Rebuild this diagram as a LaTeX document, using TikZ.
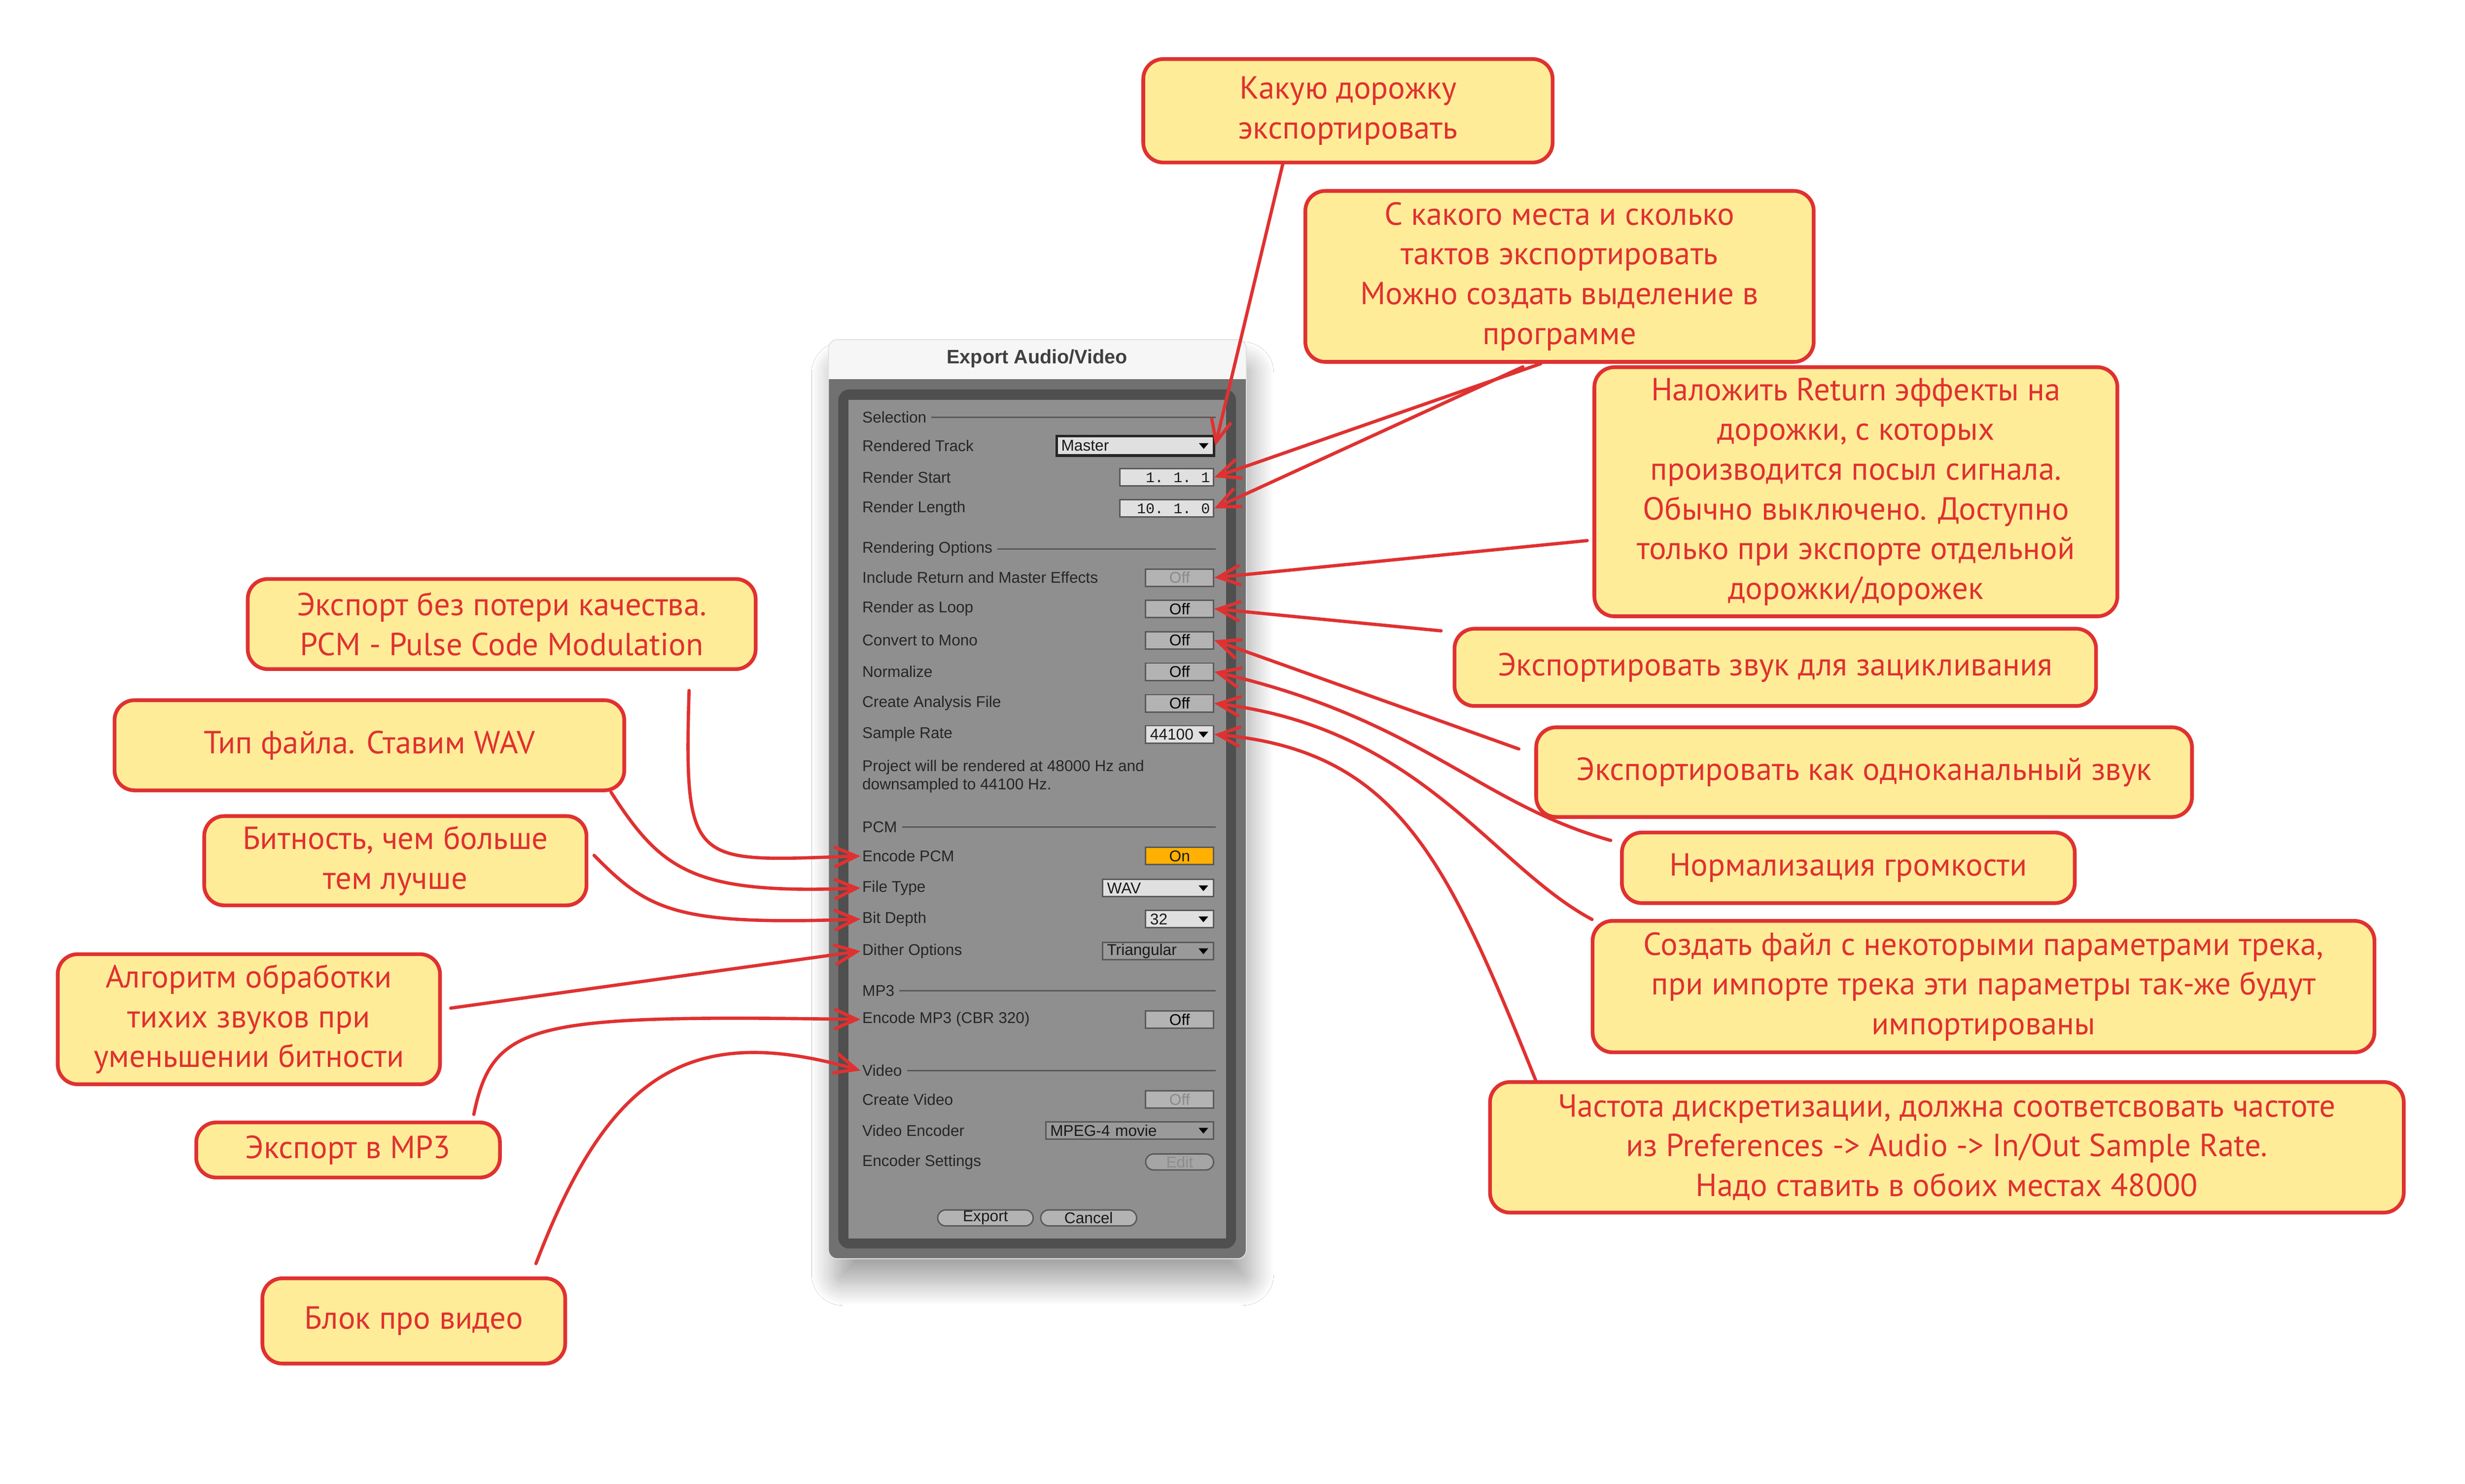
\documentclass[tikz,border=0pt]{standalone}
\usepackage{fontspec}
\setmainfont{Liberation Sans}
\setmonofont{Liberation Mono}
\newfontfamily\handfont{PT Sans}
\usetikzlibrary{positioning,calc,arrows.meta,shadows.blur}

\definecolor{callred}{HTML}{E03131}
\definecolor{callfill}{HTML}{FFEC99}
\definecolor{winband}{HTML}{717171}
\definecolor{winframe}{HTML}{4F4F4F}
\definecolor{winpanel}{HTML}{8F8F8F}
\definecolor{wintitle}{HTML}{F6F6F6}
\definecolor{rulegray}{HTML}{595959}
\definecolor{fieldgray}{HTML}{E0E0E0}
\definecolor{btngray}{HTML}{B3B3B3}
\definecolor{dimgray}{HTML}{8A8A8A}
\definecolor{pcmorange}{HTML}{FFB000}

\tikzset{
  callout/.style={draw=callred, fill=callfill, line width=2.4pt, rounded corners=0.45cm,
    text=callred, align=center, inner sep=0pt, font=\handfont\fontsize{20.5}{25.5}\selectfont},
  callarrow/.style={draw=callred, line width=2.1pt, line cap=round, line join=round,
    -{Straight Barb[length=0.5cm,width=0.45cm]}},
  lbl/.style={anchor=west, inner sep=1pt, text=black!85, font=\fontsize{10}{11.5}\selectfont},
  ctl/.style={anchor=east, draw=rulegray, line width=0.9pt, minimum height=0.39cm,
    inner sep=0pt, text=black!90, font=\fontsize{10}{12}\selectfont},
  offbtn/.style={ctl, fill=btngray, minimum width=1.53cm},
  ddbox/.style={ctl, fill=fieldgray, inner xsep=0.1cm, align=left,
    path picture={\fill[black] ($(path picture bounding box.east)+(-0.34,0.06)$)
      -- ++(0.22,0) -- ++(-0.11,-0.13) -- cycle;}},
  numbox/.style={ctl, fill=fieldgray, inner xsep=0.08cm, align=right,
    font=\ttfamily\fontsize{9.5}{11}\selectfont},
  pushbtn/.style={draw=rulegray, fill=btngray, line width=0.9pt, rounded corners=0.18cm,
    minimum height=0.36cm, inner sep=0pt, text=black!90, font=\fontsize{10}{12}\selectfont}
}

\begin{document}
\begin{tikzpicture}
  \useasboundingbox (0,0) rectangle (55.52,-33.42);
  \fill[white] (0,0) rectangle (55.52,-33.42);

  % dialog window
  \fill[wintitle, rounded corners=0.2cm, blur shadow={shadow xshift=0.12cm, shadow yshift=-0.55cm,
    shadow blur radius=0.5cm, shadow blur steps=20, shadow opacity=35}] (18.66,-7.65) rectangle (28.07,-28.35);
  \begin{scope}
    \clip (18,-8.54) rectangle (29,-29);
    \fill[winband, rounded corners=0.2cm] (18.66,-7.65) rectangle (28.07,-28.35);
  \end{scope}
  \draw[black!12, line width=0.6pt, rounded corners=0.2cm] (18.66,-7.65) rectangle (28.07,-28.35);
  \node[font=\bfseries\fontsize{12.5}{14}\selectfont, text=black!75] (title) at (23.36,-8.08) {Export Audio/Video};
  \fill[winframe, rounded corners=0.25cm] (18.88,-8.77) rectangle (27.84,-28.12);
  \fill[winpanel] (19.11,-9.00) rectangle (27.62,-27.89);
  \coordinate (rr) at (27.38,0);

  % section headings
  \foreach \nm/\y/\txt in {sel/9.40/Selection, ropt/12.36/Rendering Options, pcm/18.63/PCM,
      mp3/22.31/MP3, video/24.11/Video} {
    \node[lbl] (h\nm) at (19.38,-\y) {\txt};
    \draw[rulegray, line width=0.9pt] ([xshift=2pt]h\nm.east) -- (h\nm.east -| rr);
  }

  % row labels
  \foreach \nm/\y/\txt in {trk/10.04/Rendered Track, rst/10.75/Render Start, rlen/11.45/Render Length,
      incl/13.01/Include Return and Master Effects, loop/13.71/Render as Loop,
      mono/14.42/Convert to Mono, norm/15.13/Normalize, anal/15.84/Create Analysis File,
      rate/16.54/Sample Rate, enc/19.28/Encode PCM, ftype/20.00/File Type, bits/20.70/Bit Depth,
      dith/21.42/Dither Options, emp3/22.96/Encode MP3 (CBR 320), cvid/24.76/Create Video,
      venc/25.46/Video Encoder, eset/26.17/Encoder Settings}
    \node[lbl] (l\nm) at (19.38,-\y) {\txt};
  \node[lbl, anchor=north west, align=left] (note) at (19.38,-17.08)
    {Project will be rendered at 48000 Hz and\\downsampled to 44100 Hz.};

  % controls
  \node[ddbox, draw=black!85, line width=1.6pt, minimum height=0.44cm, text width=3.34cm] (master) at (27.37,-10.04) {Master};
  \node[numbox, text width=1.95cm] (rstart) at (27.35,-10.75) {1.~~1.~~1};
  \node[numbox, text width=1.95cm] (rlen) at (27.35,-11.45) {10.~~1.~~0};
  \foreach \nm/\y/\tc in {incl/13.01/dimgray, loop/13.71/black, mono/14.42/black, norm/15.13/black,
      anal/15.84/black, emp3/22.96/black, cvid/24.76/dimgray}
    \node[offbtn, text=\tc] (o\nm) at (27.35,-\y) {Off};
  \node[ddbox, text width=1.33cm] (srate) at (27.35,-16.54) {44100};
  \node[offbtn, fill=pcmorange] (onpcm) at (27.35,-19.28) {On};
  \node[ddbox, text width=2.30cm] (wav) at (27.35,-20.00) {WAV};
  \node[ddbox, text width=1.33cm] (depth) at (27.35,-20.70) {32};
  \node[ddbox, fill=winpanel!90!white, text width=2.30cm] (dither) at (27.35,-21.42) {Triangular};
  \node[ddbox, fill=winpanel!90!white, text width=3.58cm] (mpeg) at (27.35,-25.46) {MPEG-4 movie};
  \node[pushbtn, anchor=east, minimum width=1.53cm, text=black!45, fill=winpanel!80!white] (edit) at (27.35,-26.17) {Edit};
  \node[pushbtn, minimum width=2.15cm] (exportbtn) at (22.195,-27.43) {Export};
  \node[pushbtn, minimum width=2.16cm] (cancelbtn) at (24.52,-27.43) {Cancel};

  % callouts, right side
  \node[callout, minimum width=9.22cm, minimum height=2.33cm] (track) at (30.36,-2.495)
    {Какую дорожку\\экспортировать};
  \node[callout, minimum width=11.45cm, minimum height=3.85cm] (range) at (35.125,-6.225)
    {С какого места и сколько\\тактов экспортировать\\Можно создать выделение в\\программе};
  \node[callout, minimum width=11.78cm, minimum height=5.61cm] (ret) at (41.80,-11.075)
    {Наложить Return эффекты на\\дорожки, с которых\\производится посыл сигнала.\\Обычно выключено. Доступно\\только при экспорте отдельной\\дорожки/дорожек};
  \node[callout, minimum width=14.45cm, minimum height=1.74cm] (loop) at (39.985,-15.03)
    {Экспортировать звук для зацикливания};
  \node[callout, minimum width=14.77cm, minimum height=2.02cm] (mono) at (41.985,-17.39)
    {Экспортировать как одноканальный звук};
  \node[callout, minimum width=10.2cm, minimum height=1.59cm] (norm) at (41.63,-19.545)
    {Нормализация громкости};
  \node[callout, minimum width=17.61cm, minimum height=2.96cm] (anal) at (44.675,-22.22)
    {Создать файл с некоторыми параметрами трека,\\при импорте трека эти параметры так-же будут\\импортированы};
  \node[callout, minimum width=20.58cm, minimum height=2.94cm] (rate) at (43.85,-25.84)
    {Частота дискретизации, должна соответсвовать частоте\\из Preferences -> Audio -> In/Out Sample Rate.\\Надо ставить в обоих местах 48000};

  % callouts, left side
  \node[callout, minimum width=11.44cm, minimum height=2.03cm] (pcm) at (11.30,-14.055)
    {Экспорт без потери качества.\\PCM - Pulse Code Modulation};
  \node[callout, minimum width=11.48cm, minimum height=2.03cm] (type) at (8.32,-16.785)
    {Тип файла. Ставим WAV};
  \node[callout, minimum width=8.61cm, minimum height=2.01cm] (bits) at (8.905,-19.385)
    {Битность, чем больше\\тем лучше};
  \node[callout, minimum width=8.61cm, minimum height=2.93cm] (dith) at (5.605,-22.955)
    {Алгоритм обработки\\тихих звуков при\\уменьшении битности};
  \node[callout, minimum width=6.84cm, minimum height=1.24cm] (mp3) at (7.84,-25.90)
    {Экспорт в MP3};
  \node[callout, minimum width=6.82cm, minimum height=1.92cm] (vid) at (9.32,-29.75)
    {Блок про видео};

  % arrows, right side
  \draw[callarrow] ([xshift=-1.47cm]track.south) -- (master.east);
  \draw[callarrow] ([xshift=-0.425cm]range.south) -- (rstart.east);
  \draw[callarrow] ([xshift=-0.825cm,yshift=-0.07cm]range.south) -- (rlen.east);
  \draw[callarrow] ([xshift=-0.12cm,yshift=-1.1cm]ret.west) -- (oincl.east);
  \draw[callarrow] ([xshift=-0.26cm,yshift=-0.09cm]loop.north west) -- (oloop.east);
  \draw[callarrow] ([xshift=-0.35cm,yshift=-0.53cm]mono.north west) -- (omono.east);
  \draw[callarrow] ([xshift=-0.21cm,yshift=-0.22cm]norm.north west)
    .. controls (33.3,-18.1) and (32.0,-16.2) .. (onorm.east);
  \draw[callarrow] ([xshift=0.03cm,yshift=-0.01cm]anal.north west)
    .. controls (33.6,-19.5) and (32.0,-16.4) .. (oanal.east);
  \draw[callarrow] ([xshift=1.07cm]rate.north west)
    .. controls (32.6,-19.4) and (31.5,-16.9) .. (srate.east);

  % arrows, left side
  \draw[callarrow] ([xshift=4.22cm,yshift=-0.44cm]pcm.south)
    .. controls (15.40,-19.6) and (15.6,-19.4) .. (lenc.west);
  \draw[callarrow] ([xshift=-0.34cm]type.south east)
    .. controls (14.9,-19.6) and (15.6,-20.15) .. (lftype.west);
  \draw[callarrow] ([xshift=0.13cm,yshift=0.12cm]bits.east)
    .. controls (14.6,-20.5) and (15.2,-20.85) .. (lbits.west);
  \draw[callarrow] ([xshift=0.2cm,yshift=0.25cm]dith.east) -- (ldith.west);
  \draw[callarrow] ([xshift=-0.63cm,yshift=0.14cm]mp3.north east)
    .. controls (11.1,-23.0) and (12.0,-22.85) .. (lemp3.west);
  \draw[callarrow] ([xshift=-0.7cm,yshift=0.29cm]vid.north east)
    .. controls (13.7,-24.2) and (15.5,-23.0) .. (hvideo.west);
\end{tikzpicture}
\end{document}
